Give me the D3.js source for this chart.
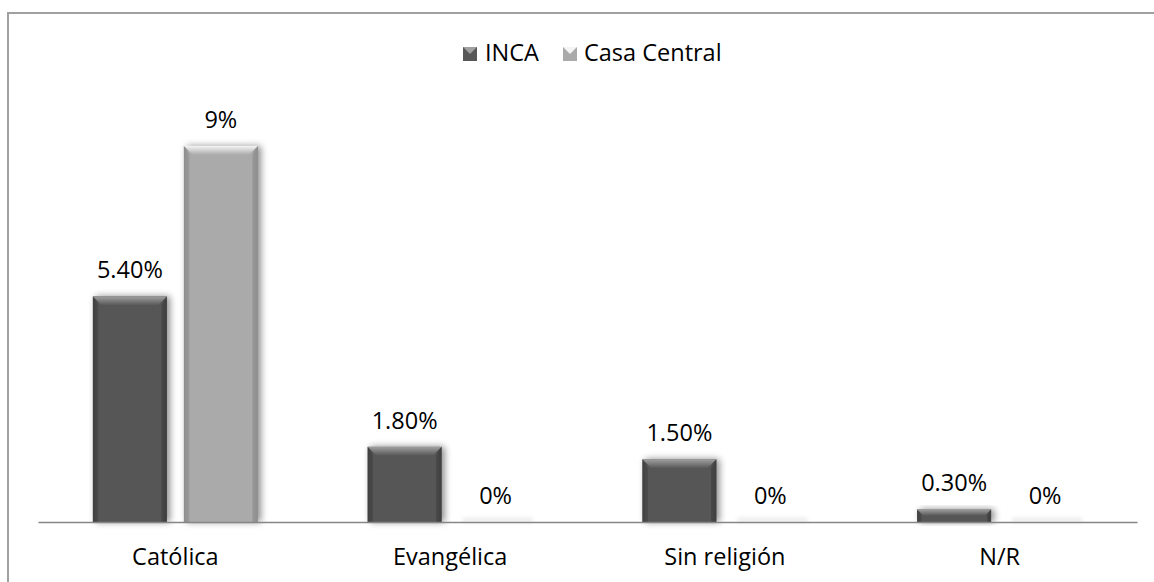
<!DOCTYPE html>
<html><head><meta charset="utf-8">
<script src="https://cdn.jsdelivr.net/npm/d3@7"></script>
<style>html,body{margin:0;padding:0;background:#fff;} svg{display:block;}</style>
</head><body>
<svg id="chart" width="1154" height="582"></svg>
<script>
const categories = ["Católica", "Evangélica", "Sin religión", "N/R"];
const seriesNames = ["INCA", "Casa Central"];
const incaValues = [5.4, 1.8, 1.5, 0.3];
const casaCentralValues = [9, 0, 0, 0];
const incaLabels = ["5.40%", "1.80%", "1.50%", "0.30%"];
const casaCentralLabels = ["9%", "0%", "0%", "0%"];

const svg = d3.select("#chart");
const font = "'Open Sans', sans-serif";
const fs = 23.5;
const colors = {
  "INCA": {body: "#575757", light: "#a0a0a0", dark: "#404040"},
  "Casa Central": {body: "#aaaaaa", light: "#f4f4f4", dark: "#8e8e8e"}
};

const defs = svg.append("defs");
const sh = defs.append("filter").attr("id", "shadow").attr("x", "-30%").attr("y", "-30%").attr("width", "160%").attr("height", "160%");
sh.append("feGaussianBlur").attr("in", "SourceAlpha").attr("stdDeviation", 3.5).attr("result", "b");
sh.append("feOffset").attr("in", "b").attr("dx", 3).attr("dy", 0).attr("result", "o");
sh.append("feComponentTransfer").attr("in", "o").attr("result", "o2")
  .append("feFuncA").attr("type", "linear").attr("slope", 0.45);
const mg = sh.append("feMerge");
mg.append("feMergeNode").attr("in", "o2");
mg.append("feMergeNode").attr("in", "SourceGraphic");

const zb = defs.append("filter").attr("id", "zeroblur").attr("x", "-20%").attr("y", "-200%").attr("width", "140%").attr("height", "500%");
zb.append("feGaussianBlur").attr("stdDeviation", 2);

seriesNames.forEach((s, i) => {
  const g = defs.append("linearGradient").attr("id", "grad" + i).attr("x1", 0).attr("x2", 1).attr("y1", 0).attr("y2", 0);
  g.append("stop").attr("offset", "0%").attr("stop-color", colors[s].dark);
  g.append("stop").attr("offset", "8%").attr("stop-color", colors[s].body);
  g.append("stop").attr("offset", "92%").attr("stop-color", colors[s].body);
  g.append("stop").attr("offset", "100%").attr("stop-color", colors[s].dark);
  const t = defs.append("linearGradient").attr("id", "top" + i).attr("x1", 0).attr("x2", 0).attr("y1", 0).attr("y2", 1);
  t.append("stop").attr("offset", "0%").attr("stop-color", colors[s].light);
  t.append("stop").attr("offset", "100%").attr("stop-color", colors[s].body);
});

// frame
svg.append("line").attr("x1", 7).attr("x2", 1154).attr("y1", 13).attr("y2", 13).attr("stroke", "#a0a0a0").attr("stroke-width", 2);
svg.append("line").attr("x1", 8).attr("x2", 8).attr("y1", 12).attr("y2", 582).attr("stroke", "#a0a0a0").attr("stroke-width", 2);

const x0 = d3.scaleBand().domain(categories).range([38, 1137]).padding(0);
const x1 = d3.scaleBand().domain(seriesNames).range([0, x0.bandwidth()]).paddingInner(0.187).paddingOuter(0.603);
const y = d3.scaleLinear().domain([0, 10]).range([522, 104.2]);

const data = [];
categories.forEach((c, i) => {
  data.push({cat: c, s: "INCA", si: 0, v: incaValues[i], label: incaLabels[i]});
  data.push({cat: c, s: "Casa Central", si: 1, v: casaCentralValues[i], label: casaCentralLabels[i]});
});

const bars = svg.append("g");
data.forEach(d => {
  const bx = x0(d.cat) + x1(d.s), bw = x1.bandwidth();
  const top = y(d.v), h = y(0) - y(d.v);
  if (h <= 0.5) {
    bars.append("rect").attr("x", bx + 4).attr("y", y(0) - 4).attr("width", bw - 4).attr("height", 4)
      .attr("fill", "#e8e8e8").attr("filter", "url(#zeroblur)");
    return;
  }
  const g = bars.append("g").attr("filter", "url(#shadow)");
  g.append("rect").attr("x", bx).attr("y", top).attr("width", bw).attr("height", h).attr("fill", `url(#grad${d.si})`);
  const bev = Math.min(9, h / 2);
  g.append("polygon")
    .attr("points", [[bx, top], [bx + bw, top], [bx + bw - bev, top + bev], [bx + bev, top + bev]].map(p => p.join(",")).join(" "))
    .attr("fill", `url(#top${d.si})`);
  g.append("polygon")
    .attr("points", [[bx, top], [bx + bev * 0.6, top + bev], [bx + bev * 0.6, top + h], [bx, top + h]].map(p => p.join(",")).join(" "))
    .attr("fill", colors[d.s].dark).attr("opacity", 0.5);
  g.append("polygon")
    .attr("points", [[bx + bw, top], [bx + bw - bev * 0.6, top + bev], [bx + bw - bev * 0.6, top + h], [bx + bw, top + h]].map(p => p.join(",")).join(" "))
    .attr("fill", colors[d.s].dark).attr("opacity", 0.6);
});

// axis line
const xAxis = d3.axisBottom(x0).tickSize(0).tickPadding(26);
const ax = svg.append("g").attr("transform", `translate(0,${y(0)})`).call(xAxis);
ax.select(".domain").attr("stroke", "#868686").attr("stroke-width", 1.5);
ax.selectAll("text").attr("font-family", font).attr("font-size", fs).attr("fill", "#000");

// value labels
svg.append("g").selectAll("text").data(data).join("text")
  .attr("x", d => x0(d.cat) + x1(d.s) + x1.bandwidth() / 2)
  .attr("y", d => y(d.v) - 18)
  .attr("text-anchor", "middle")
  .attr("font-family", font).attr("font-size", fs).attr("fill", "#000")
  .text(d => d.label);

// legend
const legendItems = [{s: "INCA", x: 463, tx: 485}, {s: "Casa Central", x: 563, tx: 584}];
const lg = svg.append("g");
legendItems.forEach((it, i) => {
  const c = colors[it.s];
  const sx = it.x, sy = 47, sz = 14;
  lg.append("rect").attr("x", sx).attr("y", sy).attr("width", sz).attr("height", sz).attr("fill", c.body);
  lg.append("polygon").attr("points", [[sx, sy], [sx + sz, sy], [sx + sz / 2, sy + sz / 2]].map(p => p.join(",")).join(" ")).attr("fill", c.light);
  lg.append("text").attr("x", it.tx).attr("y", 61).attr("font-family", font).attr("font-size", fs).attr("fill", "#000").text(it.s);
});
</script>
</body></html>
